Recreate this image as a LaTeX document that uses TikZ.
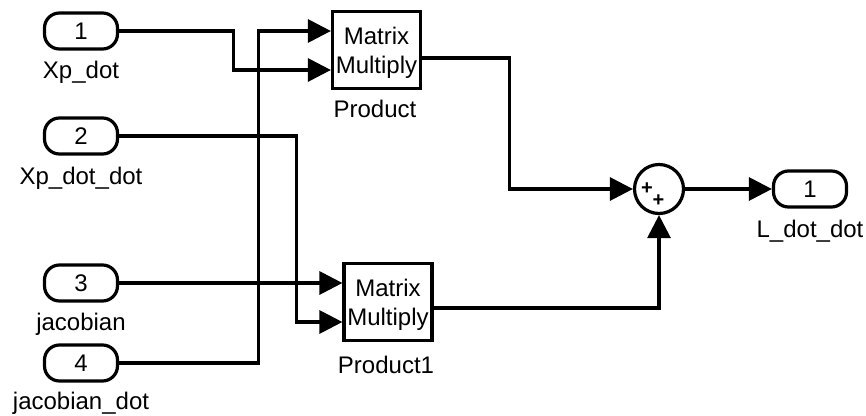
\documentclass[tikz,border=0pt]{standalone}
\usepackage{fontspec}
\setmainfont{Liberation Sans}
\usetikzlibrary{arrows.meta,calc}

\begin{document}
\begin{tikzpicture}[x=1pt,y=-1pt,line width=3.2pt,
  port/.style={draw,rounded corners=15pt,minimum width=73pt,minimum height=36pt,inner sep=0pt,font=\fontsize{24}{28}\selectfont},
  blk/.style={draw,minimum width=88pt,minimum height=77pt,inner sep=0pt,align=center,text depth=0pt,font=\fontsize{24}{29}\selectfont},
  lbl/.style={anchor=base,inner sep=0pt,font=\fontsize{24}{28}\selectfont},
  sgn/.style={inner sep=0pt,font=\fontsize{20}{20}\selectfont\bfseries},
  sig/.style={-{Triangle[length=23pt,width=23pt]}}]
  \useasboundingbox (0,0) rectangle (866,415);
  % inports
  \node[port] (in1) at (81,31) {1};
  \node[lbl] (in1l) at (81,78) {Xp\_dot};
  \node[port] (in2) at (81,136) {2};
  \node[lbl] (in2l) at (81,184) {Xp\_dot\_dot};
  \node[port] (in3) at (81,283) {3};
  \node[lbl] (in3l) at (81,330) {jacobian};
  \node[port] (in4) at (81,363) {4};
  \node[lbl] (in4l) at (81,409) {jacobian\_dot};
  % products
  \node[blk] (prod) at (376.5,50) {Matrix\\Multiply};
  \node[lbl] (prodl) at (375,117) {Product};
  \node[blk] (prod1) at (388,302) {Matrix\\Multiply};
  \node[lbl] (prod1l) at (386,373) {Product1};
  \coordinate (p1a) at (prod.west |- in1);
  \coordinate (p1b) at ($(prod.west)+(0,20)$);
  \coordinate (p1o) at ($(prod.east)+(0,8)$);
  \coordinate (p2a) at (prod1.west |- in3);
  \coordinate (p2b) at ($(prod1.west)+(0,20)$);
  \coordinate (p2o) at ($(prod1.east)+(0,6)$);
  % sum and outport
  \node[draw,circle,minimum size=49pt,inner sep=0pt] (sum) at (659,189) {};
  \node[sgn] (plusa) at (647,189) {+};
  \node[sgn] (plusb) at (658.5,201) {+};
  \node[port] (out) at (810,189) {1};
  \node[lbl] (outl) at (810,237) {L\_dot\_dot};
  % wires
  \draw[sig] (in1.east) -- ++(114.5,0) |- (p1b);
  \draw[sig] (in4.east) -- ++(139.5,0) |- (p1a);
  \draw[sig] (in2.east) -- ++(177.5,0) |- (p2b);
  \draw[sig] (in3.east) -- (p2a);
  \draw[sig] (p1o) -- ++(87,0) |- (sum.west);
  \draw[sig] (p2o) -| (sum.south);
  \draw[sig] (sum.east) -- (out.west);
\end{tikzpicture}
\end{document}
